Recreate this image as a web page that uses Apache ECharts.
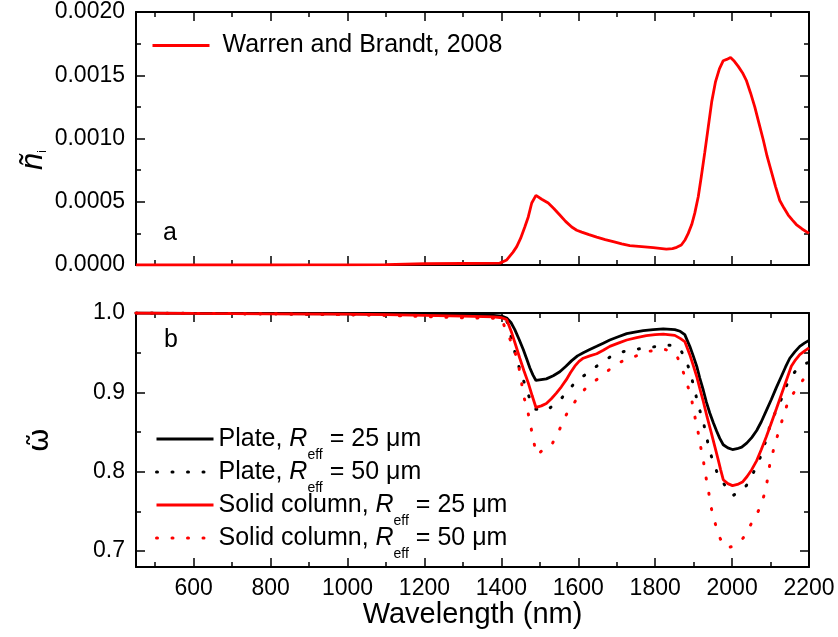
<!DOCTYPE html>
<html><head><meta charset="utf-8">
<script src="https://cdn.jsdelivr.net/npm/echarts@6/dist/echarts.min.js"></script>
<style>html,body{margin:0;padding:0;background:#fff}#c{width:838px;height:637px}</style>
</head><body><div id="c"></div><script>
// ---------- data ----------
const xMajorTicks = [600, 800, 1000, 1200, 1400, 1600, 1800, 2000, 2200];
const xMinorTicks = [500, 700, 900, 1100, 1300, 1500, 1700, 1900, 2100];
const yTopMajor = [0, 0.0005, 0.001, 0.0015, 0.002];
const yTopMinor = [0.00025, 0.00075, 0.00125, 0.00175];
const yBotMajor = [0.7, 0.8, 0.9, 1.0];
const yBotMinor = [0.75, 0.85, 0.95];

const wlWB = [450,500,600,700,800,900,1000,1100,1200,1300,1350,1396,1414,1430,1440,1450,1461,1470,1479,1490,1505,1522,1537,1552,1567,1583,1596,1609,1628,1648,1670,1691,1713,1734,1765,1795,1829,1845,1856,1868,1878,1886,1895,1903,1912,1920,1929,1938,1947,1957,1967,1977,1986,1996,2006,2016,2027,2037,2048,2059,2070,2081,2091,2102,2113,2124,2135,2146,2157,2167,2182,2200];
const niWB = [2e-9,1e-9,1e-9,3e-8,1.3e-7,5e-7,1.7e-6,3e-6,1.0e-5,1.2e-5,1.3e-5,1.5e-5,4e-5,1.0e-4,1.45e-4,2.1e-4,3.0e-4,3.8e-4,4.9e-4,5.5e-4,5.2e-4,4.9e-4,4.45e-4,3.95e-4,3.45e-4,3.0e-4,2.75e-4,2.6e-4,2.4e-4,2.2e-4,2.0e-4,1.84e-4,1.67e-4,1.53e-4,1.45e-4,1.37e-4,1.26e-4,1.3e-4,1.4e-4,1.58e-4,2.0e-4,2.5e-4,3.2e-4,4.1e-4,5.4e-4,7.0e-4,8.9e-4,1.09e-3,1.29e-3,1.45e-3,1.55e-3,1.615e-3,1.625e-3,1.64e-3,1.61e-3,1.57e-3,1.52e-3,1.46e-3,1.36e-3,1.25e-3,1.12e-3,9.9e-4,8.6e-4,7.4e-4,6.2e-4,5.1e-4,4.5e-4,3.95e-4,3.55e-4,3.2e-4,2.85e-4,2.5e-4];

const wlP25 = [450,600,800,1000,1100,1200,1300,1380,1401,1414,1425,1435,1446,1457,1466,1474,1482,1490,1517,1535,1552,1568,1583,1598,1613,1630,1648,1665,1682,1704,1726,1747,1769,1795,1821,1851,1865,1877,1890,1899,1908,1916,1925,1933,1942,1951,1960,1968,1977,1989,2001,2013,2025,2038,2051,2064,2076,2089,2102,2115,2128,2139,2150,2163,2176,2188,2200];
const omP25 = [1.0,0.9995,0.9993,0.999,0.9985,0.998,0.9975,0.997,0.996,0.9937,0.988,0.979,0.967,0.954,0.942,0.931,0.922,0.915,0.917,0.921,0.926,0.933,0.940,0.946,0.950,0.954,0.958,0.962,0.966,0.970,0.974,0.976,0.9777,0.979,0.980,0.979,0.977,0.9727,0.958,0.946,0.933,0.918,0.903,0.888,0.874,0.862,0.851,0.842,0.834,0.830,0.828,0.829,0.831,0.836,0.843,0.852,0.863,0.877,0.891,0.906,0.920,0.932,0.943,0.951,0.958,0.962,0.9655];

const wlP50 = [450,600,800,1000,1100,1200,1300,1380,1402,1415,1423,1431,1444,1457,1470,1479,1487,1517,1536,1555,1571,1587,1606,1626,1645,1665,1684,1704,1723,1743,1762,1782,1803,1825,1845,1864,1872,1881,1888,1894,1903,1912,1918,1925,1933,1942,1951,1960,1968,1977,1990,2002,2020,2037,2047,2057,2067,2076,2087,2098,2107,2115,2124,2133,2141,2150,2167,2185,2200];
const omP50 = [1.0,0.9995,0.999,0.998,0.9975,0.997,0.996,0.995,0.993,0.989,0.975,0.958,0.935,0.916,0.897,0.887,0.879,0.877,0.884,0.8917,0.901,0.9097,0.918,0.925,0.932,0.939,0.945,0.9496,0.952,0.954,0.955,0.956,0.958,0.960,0.959,0.956,0.948,0.939,0.930,0.920,0.902,0.8845,0.874,0.8635,0.845,0.826,0.812,0.8005,0.793,0.786,0.777,0.770,0.775,0.7825,0.790,0.8005,0.810,0.8215,0.838,0.857,0.868,0.878,0.887,0.897,0.908,0.918,0.928,0.935,0.938];

const wlC25 = [450,600,800,1000,1100,1200,1300,1380,1401,1414,1427,1437,1448,1459,1470,1480,1490,1504,1517,1530,1543,1556,1569,1580,1591,1602,1613,1630,1648,1665,1682,1704,1726,1752,1777,1800,1821,1851,1865,1877,1890,1899,1908,1916,1925,1935,1946,1955,1964,1970,1977,1989,2001,2014,2027,2039,2051,2064,2076,2089,2102,2115,2128,2141,2154,2165,2176,2188,2200];
const omC25 = [1.0,0.9995,0.999,0.9985,0.998,0.997,0.996,0.995,0.994,0.9916,0.975,0.960,0.943,0.927,0.912,0.896,0.881,0.883,0.886,0.892,0.899,0.907,0.916,0.925,0.933,0.939,0.943,0.946,0.9487,0.953,0.958,0.962,0.966,0.969,0.9714,0.9727,0.9735,0.9718,0.968,0.964,0.9475,0.934,0.920,0.905,0.889,0.869,0.849,0.832,0.815,0.803,0.790,0.785,0.7825,0.784,0.787,0.794,0.8026,0.814,0.828,0.844,0.8615,0.879,0.897,0.915,0.933,0.941,0.9475,0.952,0.956];

const wlC50 = [450,600,800,1000,1100,1200,1300,1380,1400,1415,1431,1444,1451,1457,1468,1479,1491,1511,1531,1552,1569,1588,1606,1624,1645,1665,1684,1704,1723,1743,1762,1782,1800,1821,1840,1855,1868,1881,1894,1903,1912,1918,1925,1931,1938,1946,1955,1964,1975,1985,2002,2015,2029,2040,2051,2062,2072,2085,2092,2098,2111,2128,2146,2161,2176,2188,2200];
const omC50 = [1.0,0.9995,0.999,0.998,0.997,0.9955,0.994,0.9935,0.993,0.975,0.958,0.936,0.918,0.897,0.878,0.851,0.8215,0.828,0.834,0.854,0.872,0.886,0.898,0.9076,0.915,0.922,0.930,0.937,0.941,0.9446,0.948,0.9516,0.953,0.9546,0.952,0.9475,0.933,0.914,0.893,0.870,0.849,0.832,0.815,0.796,0.7775,0.754,0.737,0.721,0.710,0.704,0.706,0.711,0.7166,0.726,0.7355,0.745,0.754,0.773,0.79,0.809,0.834,0.8615,0.889,0.900,0.91,0.918,0.925];

const seriesNames = ['Warren and Brandt, 2008', 'Plate, R_eff = 25 μm', 'Plate, R_eff = 50 μm', 'Solid column, R_eff = 25 μm', 'Solid column, R_eff = 50 μm'];

// ---------- chart ----------
const FF = 'Liberation Sans, Arial, sans-serif';
const pairs = (xs, ys) => xs.map((x, i) => [x, ys[i]]);

function xAx(grid, pos, ticks, len, labels, line) {
  return {
    type: 'value', gridIndex: grid, position: pos, min: 450, max: 2200,
    axisLine: { show: line, onZero: false, lineStyle: { color: '#000', width: 2 } },
    axisTick: { show: true, inside: true, length: len, customValues: ticks, lineStyle: { color: '#000', width: 1.5 } },
    axisLabel: labels ? { show: true, customValues: ticks, fontSize: 23, fontFamily: FF, color: '#000', margin: 10, formatter: v => String(v) } : { show: false },
    splitLine: { show: false },
    name: labels === 'title' ? 'Wavelength (nm)' : '',
    nameLocation: 'middle', nameGap: 31,
    nameTextStyle: { fontSize: 29, fontFamily: FF, color: '#000' }
  };
}
function yAx(grid, pos, ticks, len, labels, line, min, max, fmt) {
  return {
    type: 'value', gridIndex: grid, position: pos, min: min, max: max,
    axisLine: { show: line, onZero: false, lineStyle: { color: '#000', width: 2 } },
    axisTick: { show: true, inside: true, length: len, customValues: ticks, lineStyle: { color: '#000', width: 1.5 } },
    axisLabel: labels ? { show: true, customValues: ticks, fontSize: 23, fontFamily: FF, color: '#000', margin: 11, formatter: fmt } : { show: false },
    splitLine: { show: false }
  };
}
const fTop = v => v.toFixed(4);
const fBot = v => v.toFixed(1);

const xAxes = [
  xAx(0, 'bottom', xMajorTicks, 9, false, true),
  xAx(0, 'bottom', xMinorTicks, 5, false, false),
  xAx(0, 'top', xMajorTicks, 9, false, true),
  xAx(0, 'top', xMinorTicks, 5, false, false),
  xAx(1, 'bottom', xMajorTicks, 9, 'title', true),
  xAx(1, 'bottom', xMinorTicks, 5, false, false),
  xAx(1, 'top', xMajorTicks, 9, false, true),
  xAx(1, 'top', xMinorTicks, 5, false, false)
];
const yAxes = [
  yAx(0, 'left', yTopMajor, 9, true, true, 0, 0.002, fTop),
  yAx(0, 'left', yTopMinor, 5, false, false, 0, 0.002),
  yAx(0, 'right', yTopMajor, 9, false, true, 0, 0.002),
  yAx(0, 'right', yTopMinor, 5, false, false, 0, 0.002),
  yAx(1, 'left', yBotMajor, 9, true, true, 0.68, 1.0, fBot),
  yAx(1, 'left', yBotMinor, 5, false, false, 0.68, 1.0),
  yAx(1, 'right', yBotMajor, 9, false, true, 0.68, 1.0),
  yAx(1, 'right', yBotMinor, 5, false, false, 0.68, 1.0)
];

const dots = [1, 14.5];
function line(name, xi, yi, data, color, dotted) {
  return {
    name: name, type: 'line', xAxisIndex: xi, yAxisIndex: yi, data: data,
    symbol: 'none', showSymbol: false, smooth: false, animation: false,
    lineStyle: { color: color, width: dotted ? 3 : 2.8, type: dotted ? dots : 'solid', cap: dotted ? 'round' : 'butt' },
    itemStyle: { color: color }
  };
}

const richTxt = {
  t: { fontSize: 25, fontFamily: FF, color: '#000', lineHeight: 30 },
  i: { fontSize: 25, fontFamily: FF, color: '#000', lineHeight: 30, fontStyle: 'italic' },
  s: { fontSize: 14, fontFamily: FF, color: '#000', lineHeight: 30, padding: [24, 0, 0, 0], verticalAlign: 'top' }
};
function legendFmt(name) {
  if (name.indexOf('R_eff') < 0) return '{t|' + name + '}';
  const parts = name.split('R_eff');
  return '{t|' + parts[0] + '}{i|R}{s|eff}{t|' + parts[1] + '}';
}

const option = {
  backgroundColor: '#fff',
  animation: false,
  textStyle: { fontFamily: FF },
  grid: [
    { left: 136, right: 29, top: 12, height: 253 },
    { left: 136, right: 29, top: 313, height: 254 }
  ],
  xAxis: xAxes,
  yAxis: yAxes,
  legend: [
    { data: [seriesNames[0]], left: 146, top: 28, itemWidth: 57, itemHeight: 14,
      itemStyle: { opacity: 0 }, lineStyle: { width: 3 },
      formatter: legendFmt, textStyle: { rich: richTxt, padding: [0, 0, 0, 8] }, selectedMode: false },
    { data: seriesNames.slice(1), orient: 'vertical', left: 150, top: 419, itemWidth: 57, itemHeight: 14, itemGap: -5,
      itemStyle: { opacity: 0 }, lineStyle: { width: 3 },
      formatter: legendFmt, textStyle: { rich: richTxt }, selectedMode: false }
  ],
  series: [
    line(seriesNames[0], 0, 0, pairs(wlWB, niWB), '#ff0000', false),
    line(seriesNames[1], 4, 4, pairs(wlP25, omP25), '#000000', false),
    line(seriesNames[2], 4, 4, pairs(wlP50, omP50), '#000000', true),
    line(seriesNames[3], 4, 4, pairs(wlC25, omC25), '#ff0000', false),
    line(seriesNames[4], 4, 4, pairs(wlC50, omC50), '#ff0000', true)
  ],
  graphic: [
    { type: 'text', x: 170, y: 233, style: { text: 'a', fontSize: 25, fontFamily: FF, fill: '#000', align: 'center', verticalAlign: 'middle' } },
    { type: 'text', x: 171, y: 340, style: { text: 'b', fontSize: 25, fontFamily: FF, fill: '#000', align: 'center', verticalAlign: 'middle' } },
    { type: 'text', x: 33, y: 160, rotation: Math.PI / 2,
      style: { text: '{n|ñ}{s|i}', align: 'center', verticalAlign: 'middle',
        rich: { n: { fontSize: 31, fontFamily: FF, fontStyle: 'italic', fill: '#000', lineHeight: 32 },
                s: { fontSize: 12, fontFamily: FF, fill: '#000', lineHeight: 32, padding: [20, 0, 0, 0], verticalAlign: 'top' } } } },
    { type: 'text', x: 40, y: 440, rotation: Math.PI / 2,
      style: { text: 'ω\u0303', fontSize: 29, fontFamily: 'DejaVu Sans, ' + FF, fill: '#000', align: 'center', verticalAlign: 'middle' } }
  ]
};
const chart = echarts.init(document.getElementById('c'), null, { renderer: 'canvas' });
chart.setOption(option);
</script></body></html>
